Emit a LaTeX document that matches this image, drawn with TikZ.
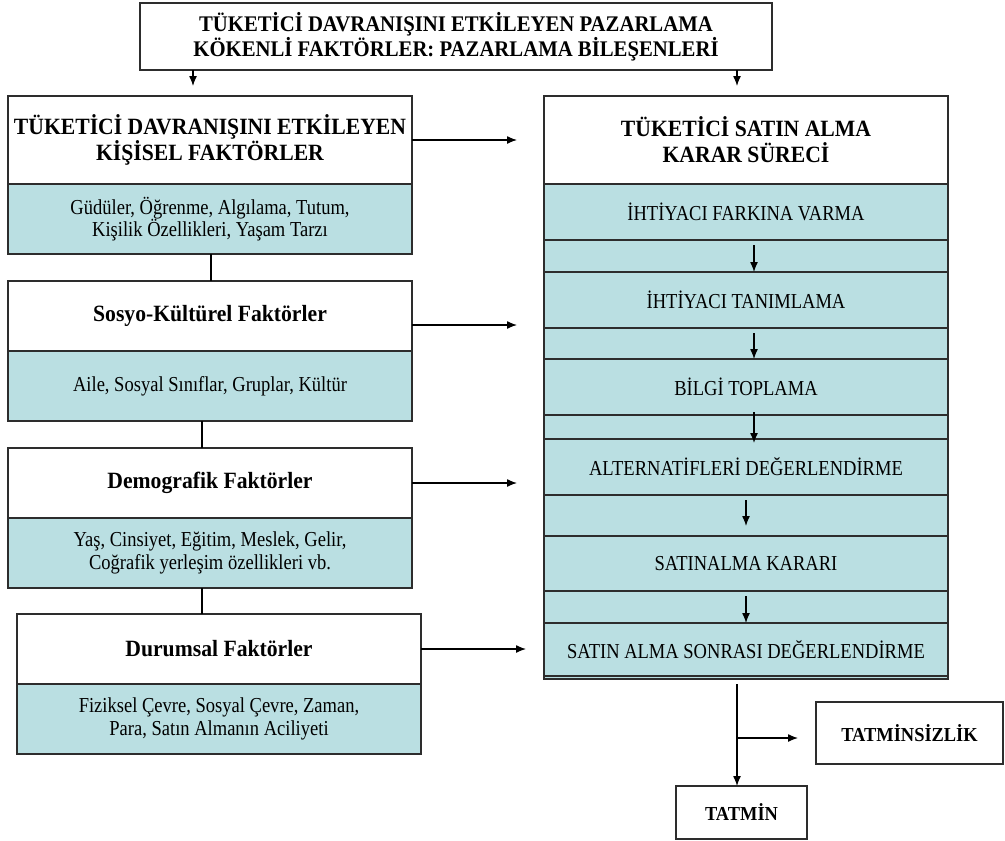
\documentclass[tikz,border=0pt]{standalone}
\usepackage{fontspec}
\setmainfont{Liberation Serif}[FakeStretch=0.87]
\newfontfamily\headfont{Liberation Serif}[FakeStretch=0.93]
\usetikzlibrary{arrows.meta,calc}
\definecolor{cellfill}{RGB}{186,223,226}
\definecolor{edge}{RGB}{45,45,45}

\begin{document}
\begin{tikzpicture}[x=1pt,y=-1pt,
  box/.style={draw=edge,line width=1.3pt,inner sep=0pt,outer sep=0pt,
    align=center,anchor=north west,fill=white},
  cell/.style={box,fill=cellfill},
  head/.style={font=\headfont\fontsize{23.3}{26}\selectfont\bfseries},
  title/.style={font=\headfont\fontsize{22.3}{25}\selectfont\bfseries},
  body/.style={font=\fontsize{21.3}{22.3}\selectfont},
  small/.style={font=\headfont\fontsize{19.8}{22}\selectfont\bfseries},
  link/.style={draw=black,line width=1.3pt},
  arr/.style={link,-{Latex[length=10pt,width=8pt]}}]

\useasboundingbox (0,0) rectangle (1005,841);

% marketing mix box on top
\node[box,title,minimum width=632pt,minimum height=67pt] (top) at (140,3)
  {TÜKETİCİ DAVRANIŞINI ETKİLEYEN PAZARLAMA\\KÖKENLİ FAKTÖRLER: PAZARLAMA BİLEŞENLERİ};

% left column: factor groups
\node[box,head,minimum width=404pt,minimum height=88pt] (k1h) at (8,96)
  {TÜKETİCİ DAVRANIŞINI ETKİLEYEN\\KİŞİSEL FAKTÖRLER};
\node[cell,body,minimum width=404pt,minimum height=70pt] (k1b) at (8,184)
  {Güdüler, Öğrenme, Algılama, Tutum,\\Kişilik Özellikleri, Yaşam Tarzı};

\node[box,head,minimum width=404pt,minimum height=70pt] (k2h) at (8,281)
  {Sosyo-Kültürel Faktörler};
\node[cell,body,minimum width=404pt,minimum height=70pt] (k2b) at (8,351)
  {Aile, Sosyal Sınıflar, Gruplar, Kültür};

\node[box,head,minimum width=404pt,minimum height=70pt] (k3h) at (8,448)
  {Demografik Faktörler};
\node[cell,body,minimum width=404pt,minimum height=70pt] (k3b) at (8,518)
  {Yaş, Cinsiyet, Eğitim, Meslek, Gelir,\\Coğrafik yerleşim özellikleri vb.};

\node[box,head,minimum width=404pt,minimum height=70pt] (k4h) at (17,614)
  {Durumsal Faktörler};
\node[cell,body,minimum width=404pt,minimum height=70pt] (k4b) at (17,684)
  {Fiziksel Çevre, Sosyal Çevre, Zaman,\\Para, Satın Almanın Aciliyeti};

% right column: decision process
\node[cell,minimum width=404pt,minimum height=583pt] (rc) at (544,96) {};
\node[box,head,minimum width=404pt,minimum height=88pt] (rh) at (544,96)
  {TÜKETİCİ SATIN ALMA\\KARAR SÜRECİ};
\node[cell,body,minimum width=404pt,minimum height=56pt] (r1) at (544,184)
  {İHTİYACI FARKINA VARMA};
\node[cell,body,minimum width=404pt,minimum height=56pt] (r2) at (544,272)
  {İHTİYACI TANIMLAMA};
\node[cell,body,minimum width=404pt,minimum height=56pt] (r3) at (544,359)
  {BİLGİ TOPLAMA};
\node[cell,body,minimum width=404pt,minimum height=56pt] (r4) at (544,439)
  {ALTERNATİFLERİ DEĞERLENDİRME};
\node[cell,body,minimum width=404pt,minimum height=55pt] (r5) at (544,536)
  {SATINALMA KARARI};
\node[cell,body,minimum width=404pt,minimum height=53pt] (r6) at (544,623)
  {SATIN ALMA SONRASI DEĞERLENDİRME};

% outcomes
\node[box,small,minimum width=187pt,minimum height=62pt] (dis) at (816,702)
  {TATMİNSİZLİK};
\node[box,small,minimum width=131pt,minimum height=53pt] (sat) at (676,786)
  {TATMİN};

% arrow ends
\coordinate (t1) at (193,86);
\coordinate (t2) at (737,86);
\coordinate (h1) at (517,140);
\coordinate (h2) at (517,325);
\coordinate (h3) at (517,483);
\coordinate (h4) at (526,649);
\coordinate (g1) at (754,245);
\coordinate (g2) at (754,333);
\coordinate (g3) at (754,412);
\coordinate (g4) at (746,500);
\coordinate (g5) at (746,596);
\coordinate (s0) at (737,684);
\coordinate (s1) at (737,738);
\coordinate (s2) at (798,738);

% connectors
\draw[arr] (top.south -| t1) -- (t1);
\draw[arr] (top.south -| t2) -- (t2);

\draw[link] (k1b.south -| 211,0) -- (k2h.north -| 211,0);
\draw[link] (k2b.south -| 202,0) -- (k3h.north -| 202,0);
\draw[link] (k3b.south -| 202,0) -- (k4h.north -| 202,0);

\draw[arr] (k1h.east |- h1) -- (h1);
\draw[arr] (k2h.east |- h2) -- (h2);
\draw[arr] (k3h.east |- h3) -- (h3);
\draw[arr] (k4h.east |- h4) -- (h4);

\draw[arr] (g1) -- (g1 |- r2.north);
\draw[arr] (g2) -- (g2 |- r3.north);
\draw[arr] (g3) -- ($(g3 |- r4.north)+(0,4)$);
\draw[arr] (g4) -- ($(g4 |- r5.north)+(0,-10)$);
\draw[arr] (g5) -- (g5 |- r6.north);

\draw[link] (s0) -- (s1);
\draw[arr] (s1) -- (sat.north -| s1);
\draw[arr] (s1) -- (s2);
\end{tikzpicture}
\end{document}
